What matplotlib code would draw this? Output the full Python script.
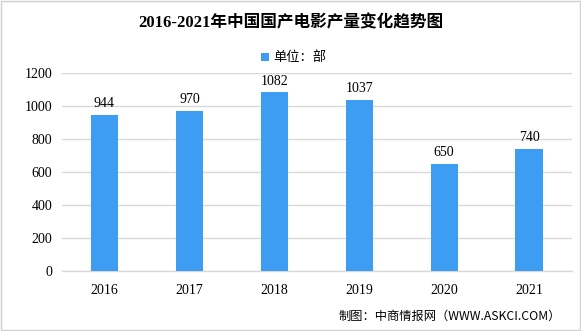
import matplotlib
matplotlib.use("Agg")
import matplotlib.pyplot as plt
from matplotlib.patches import Rectangle

years = ["2016", "2017", "2018", "2019", "2020", "2021"]
values = [944, 970, 1082, 1037, 650, 740]
yticks = [0, 200, 400, 600, 800, 1000, 1200]

title = "2016-2021年中国国产电影产量变化趋势图"
legend_label = "单位：部"
source = "制图：中商情报网（WWW.ASKCI.COM）"

FAM = ["Liberation Serif", "Noto Sans CJK SC"]
CJK = ["Noto Sans CJK SC", "DejaVu Sans"]
BAR = "#3d9df3"

fig = plt.figure(figsize=(5.81, 3.31), dpi=100)
fig.patch.set_facecolor("white")
fig.add_artist(Rectangle((0.001, 0.002), 0.997, 0.995, transform=fig.transFigure,
                         fill=False, edgecolor="#d0d0d0", linewidth=1))

ax = fig.add_axes([0.1067, 0.181, 0.877, 0.599])
x = list(range(len(years)))
bars = ax.bar(x, values, width=0.32, color=BAR, zorder=3)
for xi, v in zip(x, values):
    ax.text(xi, v + 28, str(v), ha="center", va="bottom", fontsize=10,
            family=FAM, color="#000000")

ax.set_ylim(0, 1200)
ax.set_xlim(-0.5, len(years) - 0.5)
ax.set_yticks(yticks)
ax.set_yticklabels([str(t) for t in yticks], family=FAM, fontsize=10)
ax.set_xticks(x)
ax.set_xticklabels(years, family=FAM, fontsize=10)
ax.tick_params(axis="x", length=0, pad=9)
ax.tick_params(axis="y", length=0, pad=7)
ax.grid(axis="y", color="#d9d9d9", linewidth=1, zorder=0)
for s in ["top", "right", "left"]:
    ax.spines[s].set_visible(False)
ax.spines["bottom"].set_color("#d9d9d9")
ax.spines["bottom"].set_linewidth(1)

fig.text(0.5, 0.93, title, ha="center", va="center", fontsize=12,
         fontweight="bold", family=FAM)
fig.add_artist(Rectangle((0.449, 0.815), 0.014, 0.025, transform=fig.transFigure,
                         facecolor=BAR, edgecolor="none"))
fig.text(0.470, 0.827, legend_label, ha="left", va="center", fontsize=9.5, family=CJK)
fig.text(0.965, 0.045, source, ha="right", va="center", fontsize=8.8, family=CJK)

fig.savefig("out.png", dpi=100)
